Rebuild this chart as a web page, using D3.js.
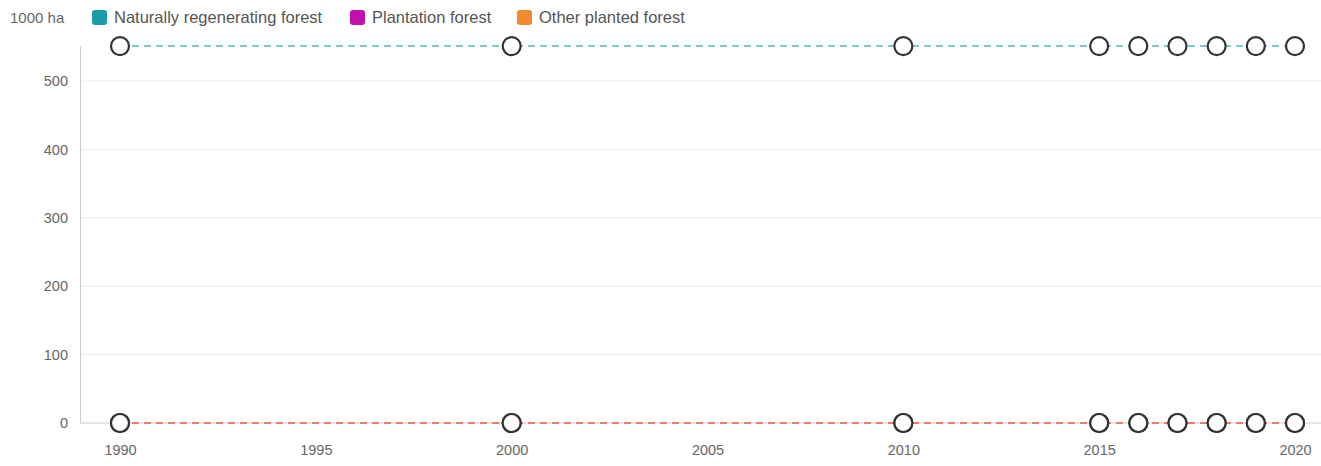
<!DOCTYPE html>
<html>
<head>
<meta charset="utf-8">
<script src="https://cdn.jsdelivr.net/npm/d3@7"></script>
<style>
  body { margin: 0; background: #fff; }
  text { font-family: "Liberation Sans", Arial, sans-serif; }
</style>
</head>
<body>
<script>
const WIDTH = 1321
const HEIGHT = 466

const YEARS = [1990, 2000, 2010, 2015, 2016, 2017, 2018, 2019, 2020]
const NATURAL = [551, 551, 551, 551, 551, 551, 551, 551, 551]
const PLANTATION = [0, 0, 0, 0, 0, 0, 0, 0, 0]
const OTHER_PLANTED = [0, 0, 0, 0, 0, 0, 0, 0, 0]
const SERIES_NAMES = ['Naturally regenerating forest', 'Plantation forest', 'Other planted forest']
const Y_TICKS = [0, 100, 200, 300, 400, 500]
const X_TICKS = [1990, 1995, 2000, 2005, 2010, 2015, 2020]

const COLORS = ['#1a9ba8', '#c20fad', '#f28a33']

const series = [NATURAL, PLANTATION, OTHER_PLANTED].map((vals, i) => ({
    name: SERIES_NAMES[i],
    color: COLORS[i],
    values: YEARS.map((y, j) => ({ year: y, value: vals[j] }))
}))

const svg = d3.select('body')
    .append('svg')
    .attr('width', WIDTH)
    .attr('height', HEIGHT)

const xScale = d3.scaleLinear()
    .domain([1990, 2020])
    .range([120, 1295])

const yScale = d3.scaleLinear()
    .domain([0, 500])
    .range([423, 81])

const LEFT = 80

// grid
svg.append('g')
    .selectAll('line')
    .data(Y_TICKS)
    .enter()
    .append('line')
    .attr('x1', LEFT)
    .attr('x2', WIDTH)
    .attr('y1', d => yScale(d))
    .attr('y2', d => yScale(d))
    .attr('stroke', d => d === 0 ? '#cccccc' : '#ebebeb')
    .attr('stroke-width', 1)

// left axis line
svg.append('line')
    .attr('x1', LEFT + 0.5)
    .attr('x2', LEFT + 0.5)
    .attr('y1', 46)
    .attr('y2', 423)
    .attr('stroke', '#cccccc')

const yAxis = d3.axisLeft(yScale)
    .tickValues(Y_TICKS)
    .tickSize(0)
    .tickPadding(0)

const gy = svg.append('g')
    .attr('transform', 'translate(68, 0)')
    .call(yAxis)
gy.select('.domain').remove()
gy.selectAll('text')
    .attr('fill', '#666')
    .attr('font-size', 14.5)

const xAxis = d3.axisBottom(xScale)
    .tickValues(X_TICKS)
    .tickFormat(d => `${d}`)
    .tickSize(0)
    .tickPadding(0)

const gx = svg.append('g')
    .attr('transform', 'translate(0, 445)')
    .call(xAxis)
gx.select('.domain').remove()
gx.selectAll('text')
    .attr('fill', '#666')
    .attr('font-size', 14.5)

// lines
const line = d3.line()
    .x(d => xScale(d.year))
    .y(d => yScale(d.value))

svg.append('g')
    .selectAll('path')
    .data(series)
    .enter()
    .append('path')
    .attr('d', d => line(d.values))
    .attr('fill', 'none')
    .attr('stroke', d => d.color)
    .attr('stroke-opacity', 0.55)
    .attr('stroke-width', 2)
    .attr('stroke-dasharray', '7,5')

// markers
series.forEach(s => {
    svg.append('g')
        .selectAll('circle')
        .data(s.values)
        .enter()
        .append('circle')
        .attr('cx', d => xScale(d.year))
        .attr('cy', d => yScale(d.value))
        .attr('r', 9)
        .attr('fill', '#fff')
        .attr('stroke', '#333')
        .attr('stroke-width', 2.2)
})

// legend
svg.append('text')
    .text('1000 ha')
    .attr('x', 10)
    .attr('y', 23)
    .attr('font-size', 15)
    .attr('fill', '#666')

const LEGEND_X = [92, 350, 517]
const legend = svg.append('g')
    .selectAll('g')
    .data(series)
    .enter()
    .append('g')
    .attr('transform', (d, i) => `translate(${LEGEND_X[i]}, 10)`)

legend.append('rect')
    .attr('width', 15)
    .attr('height', 15)
    .attr('rx', 3)
    .attr('fill', d => d.color)

legend.append('text')
    .text(d => d.name)
    .attr('x', 22)
    .attr('y', 13)
    .attr('font-size', 16.5)
    .attr('fill', '#555')
</script>
</body>
</html>
